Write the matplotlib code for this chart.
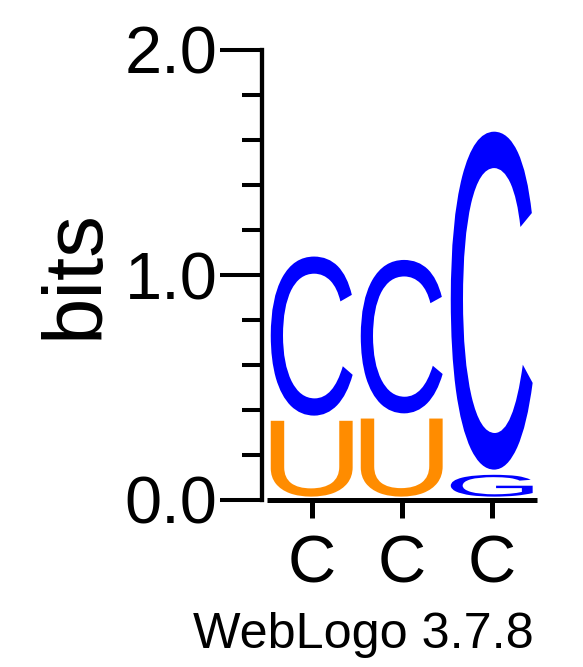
import matplotlib
matplotlib.use('Agg')
import matplotlib.pyplot as plt
from matplotlib.textpath import TextPath
from matplotlib.patches import PathPatch
from matplotlib.font_manager import FontProperties
from matplotlib.transforms import Affine2D
from matplotlib.ticker import MultipleLocator

W, H = 583, 667

# ---- data ----
positions = [1, 2, 3]
position_labels = ['C', 'C', 'C']
stack_letters = [['U', 'C'], ['U', 'C'], ['G', 'C']]
stack_heights = [[0.36, 0.73], [0.37, 0.705], [0.12, 1.525]]
letter_colors = {'C': '#0000FF', 'G': '#0000FF', 'U': '#FF8C00'}
yticks = [0.0, 1.0, 2.0]
ytick_labels = ['0.0', '1.0', '2.0']
ylabel = 'bits'
footer = 'WebLogo 3.7.8'

plt.rcParams['font.family'] = ['Liberation Sans', 'DejaVu Sans']

fig = plt.figure(figsize=(W / 100, H / 100), dpi=100)
ax = fig.add_axes([266.7 / W, 1 - 500 / H, 270 / W, 450 / H])
ax.set_xlim(0.5, 3.5)
ax.set_ylim(0, 2)

font = FontProperties(family='Liberation Sans')
glyph_width = 0.91
pad_bottom = 0.015
pad_top = 0.008
for x, letters, heights in zip(positions, stack_letters, stack_heights):
    base = 0.0
    for letter, h in zip(letters, heights):
        tp = TextPath((0, 0), letter, size=1, prop=font)
        ext = tp.get_extents()
        gh = h - pad_bottom - pad_top
        tr = (Affine2D().translate(-ext.x0, -ext.y0)
              .scale(glyph_width / ext.width, gh / ext.height)
              .translate(x - glyph_width / 2, base + pad_bottom))
        path = tr.transform_path(tp)
        ax.add_patch(PathPatch(path, facecolor=letter_colors[letter],
                               edgecolor='none', zorder=3))
        base += h

for s in ['top', 'right']:
    ax.spines[s].set_visible(False)
ax.spines['left'].set_position(('outward', 3.4))
ax.spines['left'].set_linewidth(3.1)
ax.spines['bottom'].set_linewidth(3.6)
ax.spines['bottom'].set_capstyle('butt')

ax.set_yticks(yticks, ytick_labels)
ax.yaxis.set_minor_locator(MultipleLocator(0.2))
ax.tick_params(axis='y', which='major', length=30, width=2.9, pad=2,
               labelsize=48, direction='out')
ax.tick_params(axis='y', which='minor', length=14.4, width=2.9, direction='out')

ax.set_xticks(positions, position_labels)
ax.tick_params(axis='x', which='major', length=13, width=3.6, pad=12,
               labelsize=48, direction='out')

fig.text(98 / W, 1 - 274 / H, ylabel, rotation=90, rotation_mode='anchor',
         ha='center', va='baseline', fontsize=60)
fig.text(534 / W, 1 - 648 / H, footer, ha='right', va='baseline', fontsize=36.3)

fig.savefig('out.png', dpi=100)
